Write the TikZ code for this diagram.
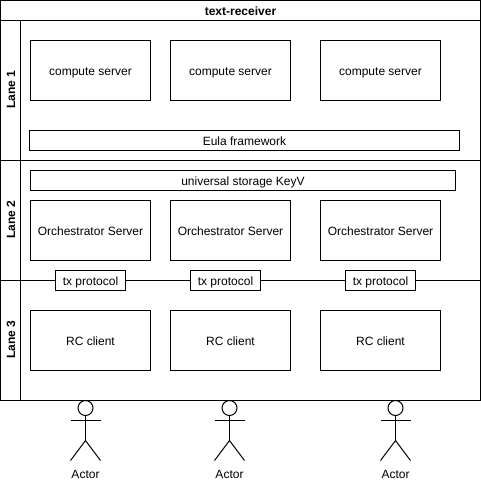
\documentclass[tikz,border=0pt]{standalone}
\usepackage{fontspec}
\setmainfont{Liberation Sans}
\usetikzlibrary{positioning}
\tikzset{
  boxtext/.style={text height=12pt,text depth=2pt,font=\fontsize{12}{14}\selectfont},
  srvbox/.style={draw=black,fill=white,line width=1pt,minimum width=120pt,minimum height=60pt,inner sep=0pt,boxtext},
  barbox/.style={draw=black,fill=white,line width=1pt,minimum height=20pt,inner sep=0pt,boxtext},
  lanelabel/.style={rotate=90,inner sep=0pt,boxtext,font=\fontsize{12}{14}\selectfont\bfseries},
  actorlabel/.style={inner sep=0pt,boxtext},
  laneline/.style={line width=1pt}
}
\begin{document}
\begin{tikzpicture}[x=1pt,y=-1pt]
  \useasboundingbox (0,0) rectangle (481,482);
  \fill[white] (0,0) rectangle (481,482);
  % pool and lanes
  \draw[laneline] (0.5,0.5) rectangle (480.5,400.5);
  \draw[laneline] (0.5,20.5) -- (480.5,20.5);
  \draw[laneline] (20.5,20.5) -- (20.5,400.5);
  \draw[laneline] (0.5,160.5) -- (480.5,160.5);
  \draw[laneline] (0.5,280.5) -- (480.5,280.5);
  \node[inner sep=0pt,boxtext,font=\fontsize{12}{14}\selectfont\bfseries] (title) at (240.5,10) {text-receiver};
  \node[lanelabel] (lane1) at (10,89.5) {Lane 1};
  \node[lanelabel] (lane2) at (10,219.5) {Lane 2};
  \node[lanelabel] (lane3) at (10,339.5) {Lane 3};
  % boxes in the three columns
  \foreach \n/\x in {1/90.5, 2/230.5, 3/380.5} {
    \node[srvbox] (compute\n) at (\x,70.5) {compute server};
    \node[srvbox] (orch\n) at (\x,230.5) {Orchestrator Server};
    \node[srvbox] (rc\n) at (\x,340.5) {RC client};
  }
  \node[barbox,minimum width=430pt] (eula) at (244.5,140.5) {Eula framework};
  \node[barbox,minimum width=425pt] (storage) at (243,180.5) {universal storage KeyV};
  \foreach \n/\x in {1/90.5, 2/225.5, 3/380.5}
    \node[barbox,minimum width=70pt] (tx\n) at (\x,280.5) {tx protocol};
  % actors
  \foreach \n/\x in {1/85.5, 2/229.5, 3/395.5} {
    \draw[laneline] (\x,408) circle (7.5);
    \draw[laneline] (\x,415.5) -- (\x,440.5) (\x-15,420.5) -- (\x+15,420.5);
    \draw[laneline] (\x-15,460.5) -- (\x,440.5) -- (\x+15,460.5);
    \node[actorlabel] (actor\n) at (\x,473) {Actor};
  }
\end{tikzpicture}
\end{document}
